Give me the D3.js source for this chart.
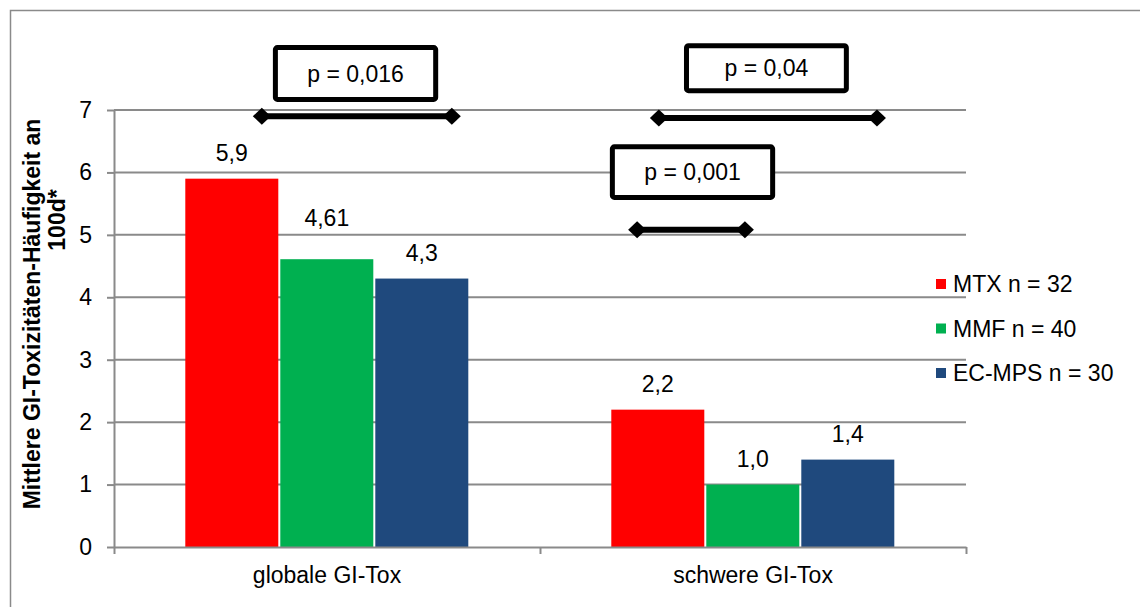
<!DOCTYPE html>
<html>
<head>
<meta charset="utf-8">
<script src="https://cdn.jsdelivr.net/npm/d3@7/dist/d3.min.js"></script>
<style>
  html, body { margin: 0; padding: 0; background: #fff; }
  svg { display: block; font-family: "Liberation Sans", Arial, sans-serif; }
</style>
</head>
<body>
<svg id="chart" width="1140" height="607"></svg>
<script>
// Categories and series
const categories = ["globale GI-Tox", "schwere GI-Tox"];
const seriesNames = ["MTX n = 32", "MMF n = 40", "EC-MPS n = 30"];
const seriesColors = ["#ff0000", "#00b050", "#1f497d"];

// Mean GI toxicity frequency per 100 days
const mtxValues   = [5.9, 2.2];
const mmfValues   = [4.61, 1.0];
const ecmpsValues = [4.3, 1.4];

// Value labels as printed (German decimal comma)
const mtxLabels   = ["5,9", "2,2"];
const mmfLabels   = ["4,61", "1,0"];
const ecmpsLabels = ["4,3", "1,4"];

// Y axis ticks
const yTicks = [0, 1, 2, 3, 4, 5, 6, 7];

// Significance tests between groups
const pLabels = ["p = 0,016", "p = 0,04", "p = 0,001"];

const seriesValues = [mtxValues, mmfValues, ecmpsValues];
const seriesLabels = [mtxLabels, mmfLabels, ecmpsLabels];

const svg = d3.select("#chart");
const FONT = 23;
const GRID = "#8a8a8a";

// Outer chart frame
svg.append("rect")
  .attr("x", 10.5).attr("y", 10.5)
  .attr("width", 1200).attr("height", 700)
  .attr("fill", "none").attr("stroke", GRID).attr("stroke-width", 1.5);

const plot = { left: 114, right: 966, top: 110, bottom: 547 };

const y = d3.scaleLinear().domain([0, 7]).range([plot.bottom, plot.top]);
const xBand = d3.scaleBand().domain(categories).range([plot.left, plot.right]);
const xPos = d3.scaleLinear().domain([0, 2]).range([plot.left, plot.right]);
const inner = d3.scaleBand().domain(d3.range(seriesNames.length))
  .range([71.3, 71.3 + 285]);

// Horizontal gridlines
svg.append("g")
  .selectAll("line")
  .data(yTicks.filter(t => t > 0))
  .join("line")
  .attr("x1", plot.left).attr("x2", plot.right)
  .attr("y1", d => y(d)).attr("y2", d => y(d))
  .attr("stroke", GRID).attr("stroke-width", 2);

// Y axis
const yAxis = svg.append("g")
  .attr("transform", `translate(${plot.left},0)`)
  .call(d3.axisLeft(y).tickValues(yTicks).tickFormat(d3.format("d"))
    .tickSizeInner(7).tickSizeOuter(0).tickPadding(15));
yAxis.select(".domain").attr("stroke", GRID).attr("stroke-width", 2);
yAxis.selectAll(".tick line").attr("stroke", GRID).attr("stroke-width", 2);
yAxis.selectAll(".tick text")
  .attr("font-size", FONT).attr("fill", "#000")
  .attr("font-family", "Liberation Sans, Arial, sans-serif");

// Bars
const groups = svg.append("g")
  .selectAll("g")
  .data(seriesNames.map((name, i) => ({ name, i })))
  .join("g")
  .attr("fill", d => seriesColors[d.i]);

groups.selectAll("rect")
  .data(d => categories.map((c, j) => ({ c, s: d.i, v: seriesValues[d.i][j] })))
  .join("rect")
  .attr("x", d => xBand(d.c) + inner(d.s))
  .attr("width", inner.bandwidth() - 2)
  .attr("y", d => y(d.v))
  .attr("height", d => y(0) - y(d.v));

// X axis line with category boundary ticks
const xAxis = svg.append("g")
  .attr("transform", `translate(0,${plot.bottom})`)
  .call(d3.axisBottom(xPos).tickValues([0, 1, 2]).tickFormat("")
    .tickSizeInner(7).tickSizeOuter(0));
xAxis.select(".domain").attr("stroke", GRID).attr("stroke-width", 2);
xAxis.selectAll(".tick line").attr("stroke", GRID).attr("stroke-width", 2);

// Category labels
const xLabels = svg.append("g")
  .attr("transform", `translate(0,${plot.bottom})`)
  .call(d3.axisBottom(xBand).tickSize(0).tickPadding(20));
xLabels.select(".domain").remove();
xLabels.selectAll(".tick text")
  .attr("font-size", FONT).attr("fill", "#000")
  .attr("font-family", "Liberation Sans, Arial, sans-serif");

// Value labels above bars (the MMF label of the first group sits higher)
const labelLift = (s, j) => (s === 1 && j === 0 ? 33 : 18);
svg.append("g")
  .selectAll("text")
  .data(seriesNames.flatMap((n, s) => categories.map((c, j) => ({ c, s, j }))))
  .join("text")
  .attr("x", d => xBand(d.c) + inner(d.s) + (inner.bandwidth() - 2) / 2)
  .attr("y", d => y(seriesValues[d.s][d.j]) - labelLift(d.s, d.j))
  .attr("text-anchor", "middle")
  .attr("font-size", FONT)
  .text(d => seriesLabels[d.s][d.j]);

// Y axis title, two lines
svg.append("text")
  .attr("font-size", 23).attr("font-weight", "bold")
  .attr("text-anchor", "middle")
  .attr("transform", "translate(40,314) rotate(-90)")
  .text("Mittlere GI-Toxizitäten-Häufigkeit an");
svg.append("text")
  .attr("font-size", 23).attr("font-weight", "bold")
  .attr("text-anchor", "middle")
  .attr("transform", "translate(65,220) rotate(-90)")
  .text("100d*");

// Significance brackets with p-value boxes (x in category units, y in data units)
const brackets = [
  { p: pLabels[0], x1: 0.347, x2: 0.793, yv: 6.90, bx1: 0.373, bx2: 0.761, by1: 8.04, by2: 7.13 },
  { p: pLabels[1], x1: 1.279, x2: 1.791, yv: 6.87, bx1: 1.338, bx2: 1.725, by1: 8.07, by2: 7.27 },
  { p: pLabels[2], x1: 1.228, x2: 1.481, yv: 5.08, bx1: 1.164, bx2: 1.552, by1: 6.45, by2: 5.56 }
];

const diamond = "M0,-8.5L9,0L0,8.5L-9,0Z";
const br = svg.append("g").selectAll("g").data(brackets).join("g");

br.append("line")
  .attr("x1", d => xPos(d.x1)).attr("x2", d => xPos(d.x2))
  .attr("y1", d => y(d.yv)).attr("y2", d => y(d.yv))
  .attr("stroke", "#000").attr("stroke-width", 6);
br.each(function (d) {
  const g = d3.select(this);
  [d.x1, d.x2].forEach(xv => {
    g.append("path").attr("d", diamond)
      .attr("transform", `translate(${xPos(xv)},${y(d.yv)})`)
      .attr("fill", "#000");
  });
});
br.append("rect")
  .attr("x", d => xPos(d.bx1) + 2.5).attr("y", d => y(d.by1) + 2.5)
  .attr("width", d => xPos(d.bx2) - xPos(d.bx1) - 5)
  .attr("height", d => y(d.by2) - y(d.by1) - 5)
  .attr("rx", 2)
  .attr("fill", "#fff").attr("stroke", "#000").attr("stroke-width", 5);
br.append("text")
  .attr("x", d => (xPos(d.bx1) + xPos(d.bx2)) / 2)
  .attr("y", d => (y(d.by1) + y(d.by2)) / 2)
  .attr("dy", "0.35em")
  .attr("text-anchor", "middle")
  .attr("font-size", FONT)
  .text(d => d.p);

// Legend
const legend = svg.append("g")
  .selectAll("g")
  .data(seriesNames)
  .join("g")
  .attr("transform", (d, i) => `translate(936,${284 + i * 44.5})`);
legend.append("rect")
  .attr("x", 0).attr("y", -5).attr("width", 10).attr("height", 10)
  .attr("fill", (d, i) => seriesColors[i]);
legend.append("text")
  .attr("x", 17).attr("dy", "0.35em")
  .attr("font-size", FONT)
  .text(d => d);
</script>
</body>
</html>
